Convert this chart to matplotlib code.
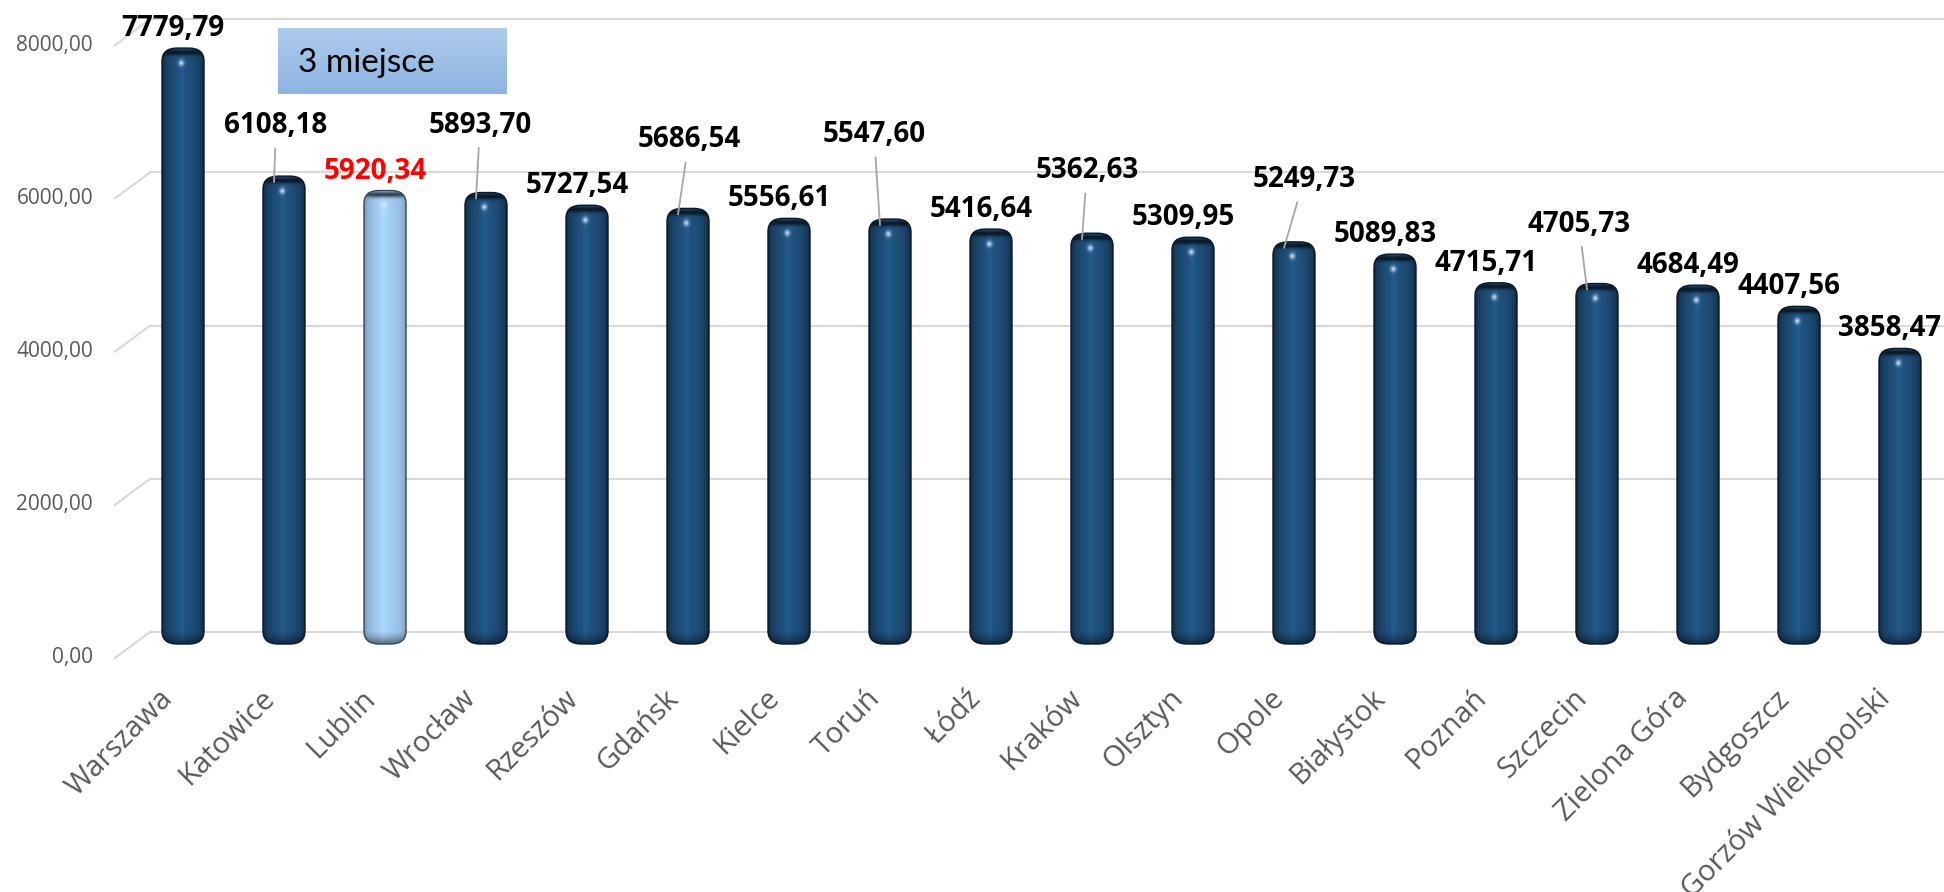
import numpy as np
import matplotlib
matplotlib.use("Agg")
import matplotlib.pyplot as plt
from matplotlib.patches import FancyBboxPatch
from matplotlib.transforms import offset_copy

# ---- data -------------------------------------------------------------
cities = ["Warszawa", "Katowice", "Lublin", "Wrocław", "Rzeszów", "Gdańsk",
          "Kielce", "Toruń", "Łódź", "Kraków", "Olsztyn", "Opole",
          "Białystok", "Poznań", "Szczecin", "Zielona Góra", "Bydgoszcz",
          "Gorzów Wielkopolski"]
values = [7779.79, 6108.18, 5920.34, 5893.70, 5727.54, 5686.54, 5556.61,
          5547.60, 5416.64, 5362.63, 5309.95, 5249.73, 5089.83, 4715.71,
          4705.73, 4684.49, 4407.56, 3858.47]
highlight = "Lublin"
y_ticks = [0, 2000, 4000, 6000, 8000]
y_tick_labels = ["0,00", "2000,00", "4000,00", "6000,00", "8000,00"]
callout_text = "3 miejsce"

# labels moved away from their bar (right, up in pixels) and tied back with a leader
label_shift = {"Katowice": (2, 31), "Wrocław": (4, 48), "Gdańsk": (11, 49),
               "Toruń": (-6, 65), "Kraków": (5, 43), "Opole": (20, 43),
               "Szczecin": (-8, 40)}

# ---- layout (pixels) ----------------------------------------------------
W, H, DPI = 1944, 892, 100
X0, STEP = 183, 101          # first bar centre, bar spacing
BASE = 644                   # baseline of bars, from top
K = 0.0766                   # pixels per unit
BAR_W = 42
BACK, FRONT = 12, 14         # depth of back wall / front edge of floor

DARK = np.array([31, 78, 121]) / 255
LIGHT = np.array([157, 197, 234]) / 255
GRID = "#D9D9D9"
TXT = "#595959"

fig = plt.figure(figsize=(W / DPI, H / DPI), dpi=DPI)
ax = fig.add_axes([0, 0, 1, 1])
ax.set_xlim(-X0 / STEP, (W - X0) / STEP)
ax.set_ylim(-(H - BASE) / K, BASE / K)
ax.axis("off")


def px_x(px):
    return (px - X0) / STEP


# ---- gridlines on the back wall with the floor diagonals -----------------
for v, lab in zip(y_ticks, y_tick_labels):
    yb = v + BACK / K
    yf = v - FRONT / K
    ax.plot([px_x(150), px_x(W)], [yb, yb], color=GRID, lw=1.5,
            solid_capstyle="butt", zorder=1)
    ax.plot([px_x(115), px_x(150)], [yf, yb], color=GRID, lw=1.5, zorder=1)
    ax.text(px_x(93), yf, lab, ha="right", va="center", fontsize=15,
            family="Open Sans", color=TXT)


# ---- cylinders -----------------------------------------------------------
def cylinder_image(base, w_px, h_px, light):
    u = (np.arange(w_px) + 0.5) / w_px * 2 - 1
    d = np.arange(h_px) + 0.5
    U, D = np.meshgrid(u, d)
    r = np.sqrt(np.clip(1 - U ** 2, 0, 1))
    if light:
        s = 0.42 + 0.62 * r ** 0.45 + 0.06 * np.exp(-((U + 0.1) / 0.2) ** 2)
    else:
        s = 0.22 + 0.82 * r ** 0.7 + 0.12 * np.exp(-((U + 0.05) / 0.15) ** 2)
    rgb = base[None, None, :] * s[..., None]
    # dark rim of the top face
    rim = 1 - 0.7 * np.exp(-((D - 4.5) / 3.0) ** 2) * r ** 0.4
    rgb *= rim[..., None]
    # shade toward the rounded bottom
    bot = 1 - 0.5 * np.clip((D - (h_px - 14)) / 14, 0, 1) ** 1.5
    rgb *= bot[..., None]
    # specular spot under the top
    spot = np.exp(-((U + 0.08) / 0.13) ** 2 - ((D - 15) / 3.0) ** 2)
    hi = np.array([0.85, 0.92, 1.0])
    rgb = rgb * (1 - 0.85 * spot[..., None]) + hi * 0.85 * spot[..., None]
    return np.clip(rgb, 0, 1)


bw = BAR_W / STEP
rx = 15 / STEP
aspect = (13 / K) / rx
for i, (c, v) in enumerate(zip(cities, values)):
    light = c == highlight
    base = LIGHT if light else DARK
    left = i - bw / 2
    patch = FancyBboxPatch((left, 0), bw, v,
                           boxstyle=f"round,pad=0,rounding_size={rx}",
                           mutation_aspect=aspect, facecolor="none",
                           edgecolor="#34495c" if light else "#0a1828",
                           lw=1.0, zorder=4)
    ax.add_patch(patch)
    img = cylinder_image(base, BAR_W, int(round(v * K)), light)
    im = ax.imshow(img, extent=[left, left + bw, 0, v], aspect="auto",
                   interpolation="bilinear", origin="upper", zorder=3)
    im.set_clip_path(patch)

# ---- value labels ----------------------------------------------------------
anchor = offset_copy(ax.transData, fig=fig, x=-10, y=-6, units="dots")
for i, (c, v) in enumerate(zip(cities, values)):
    dx, up = label_shift.get(c, (0, 0))
    props = None
    if c in label_shift:
        props = dict(arrowstyle="-", color="#A6A6A6", lw=1.3,
                     shrinkA=4, shrinkB=0)
    ax.annotate(f"{v:.2f}".replace(".", ","), xy=(i, v), xycoords=anchor,
                xytext=(dx, 18 + up), textcoords="offset pixels",
                ha="center", va="baseline", fontsize=20, fontweight="bold",
                family="Open Sans",
                color="#FF0000" if c == highlight else "black",
                arrowprops=props, zorder=6)

# ---- category labels ---------------------------------------------------------
below = offset_copy(ax.transData, fig=fig, x=-14, y=-50, units="dots")
for i, c in enumerate(cities):
    ax.text(i, 0, c, transform=below, rotation=45, rotation_mode="anchor",
            ha="right", va="center", fontsize=21, family="Open Sans",
            color=TXT)

# ---- callout box -------------------------------------------------------------
bx = fig.add_axes([278 / W, 1 - 94 / H, 228 / W, 66 / H])
top_c = np.array([174, 203, 236]) / 255
bot_c = np.array([141, 180, 226]) / 255
t = np.linspace(0, 1, 64)[:, None, None]
grad = np.repeat(top_c * (1 - t) + bot_c * t, 4, axis=1)
bx.imshow(grad, aspect="auto", extent=[0, 1, 0, 1], interpolation="bilinear")
bx.set_xlim(0, 1)
bx.set_ylim(0, 1)
bx.axis("off")
bx.text(0.088, 0.47, callout_text, ha="left", va="center", fontsize=24,
        family="Lato", color="black")

fig.savefig("out.png", dpi=DPI)
